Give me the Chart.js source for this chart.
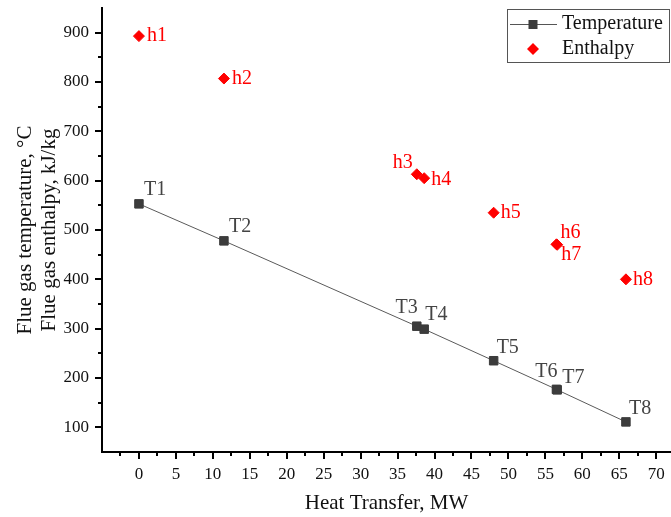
<!DOCTYPE html>
<html>
<head>
<meta charset="utf-8">
<script src="https://cdn.jsdelivr.net/npm/chart.js@4"></script>
<style>
  html, body { margin: 0; padding: 0; background: #fff; }
  #wrap { width: 671px; height: 517px; }
</style>
</head>
<body>
<div id="wrap"><canvas id="chart" width="671" height="517"></canvas></div>
<script>
// values
const heatTransfer = [0, 11.5, 37.6, 38.6, 48.0, 56.5, 56.6, 65.9];
const temperature = [553, 478, 305, 299, 235, 177, 176, 111];
const enthalpy = [893, 807, 613, 605, 535, 471, 470, 400];
const tempLabels = ["T1", "T2", "T3", "T4", "T5", "T6", "T7", "T8"];
const enthLabels = ["h1", "h2", "h3", "h4", "h5", "h6", "h7", "h8"];
const xTickValues = [0, 5, 10, 15, 20, 25, 30, 35, 40, 45, 50, 55, 60, 65, 70];
const yTickValues = [100, 200, 300, 400, 500, 600, 700, 800, 900];

const serif = "'Liberation Serif', 'Times New Roman', serif";
const grey = "#3c3c3c";
const red = "#ff0000";

// where each point label sits relative to its marker [dx, dy, align]
const tempLabelPlace = [
  [5, -14, "left"], [5, -14, "left"], [1, -18, "right"], [1, -14, "left"],
  [3, -13, "left"], [1, -18, "right"], [5, -12, "left"], [3, -13, "left"],
];
const enthLabelPlace = [
  [8, 0, "left"], [8, 0, "left"], [-4, -12, "right"], [7, 2, "left"],
  [7, 0, "left"], [4, -12, "left"], [4, 10, "left"], [7, 0, "left"],
];

const pointLabels = {
  id: "pointLabels",
  afterDatasetsDraw(chart) {
    const ctx = chart.ctx;
    const sets = [
      [0, tempLabels, tempLabelPlace, "#444"],
      [1, enthLabels, enthLabelPlace, red],
    ];
    ctx.save();
    ctx.font = "20px " + serif;
    ctx.textBaseline = "middle";
    sets.forEach(([i, names, place, color]) => {
      const meta = chart.getDatasetMeta(i);
      ctx.fillStyle = color;
      meta.data.forEach((pt, j) => {
        const [dx, dy, align] = place[j];
        ctx.textAlign = align;
        ctx.fillText(names[j], pt.x + dx, pt.y + dy);
      });
    });
    ctx.restore();
  },
};

// outward major and minor tick marks
const tickMarks = {
  id: "tickMarks",
  afterDraw(chart) {
    const ctx = chart.ctx;
    const xs = chart.scales.x;
    const ys = chart.scales.y;
    const area = chart.chartArea;
    ctx.save();
    ctx.strokeStyle = "#000";
    ctx.lineWidth = 2;
    ctx.beginPath();
    for (let v = -2.5; v <= xs.max; v += 2.5) {
      const px = Math.round(xs.getPixelForValue(v));
      const len = v % 5 === 0 ? 7 : 4;
      ctx.moveTo(px, area.bottom);
      ctx.lineTo(px, area.bottom + len);
    }
    for (let v = 100; v < ys.max; v += 50) {
      const py = Math.round(ys.getPixelForValue(v));
      const len = v % 100 === 0 ? 7 : 4;
      ctx.moveTo(area.left, py);
      ctx.lineTo(area.left - len, py);
    }
    ctx.stroke();
    ctx.restore();
  },
};

const boxLegend = {
  id: "boxLegend",
  afterDraw(chart) {
    const ctx = chart.ctx;
    const area = chart.chartArea;
    const w = 163, h = 54;
    const left = area.right - 1 - w;
    const top = area.top + 1;
    ctx.save();
    ctx.fillStyle = "#fff";
    ctx.fillRect(left, top, w, h);
    ctx.strokeStyle = "#555";
    ctx.lineWidth = 1;
    ctx.strokeRect(left + 0.5, top + 0.5, w - 1, h - 1);

    const cx = left + 26;
    const y1 = top + 15;
    const y2 = top + 40;
    ctx.strokeStyle = "#555";
    ctx.beginPath();
    ctx.moveTo(left + 3, y1 + 0.5);
    ctx.lineTo(left + 50, y1 + 0.5);
    ctx.stroke();
    ctx.fillStyle = grey;
    ctx.fillRect(cx - 4.5, y1 - 4, 9, 9);

    ctx.fillStyle = red;
    ctx.beginPath();
    ctx.moveTo(cx, y2 - 6);
    ctx.lineTo(cx + 6, y2);
    ctx.lineTo(cx, y2 + 6);
    ctx.lineTo(cx - 6, y2);
    ctx.closePath();
    ctx.fill();

    ctx.fillStyle = "#111";
    ctx.font = "20px " + serif;
    ctx.textAlign = "left";
    ctx.textBaseline = "middle";
    ctx.fillText("Temperature", left + 55, y1);
    ctx.fillText("Enthalpy", left + 55, y2);
    ctx.restore();
  },
};

function dropPadding(scale) {
  scale.paddingTop = 0;
  scale.paddingBottom = 0;
  scale.paddingLeft = 0;
  scale.paddingRight = 0;
}

new Chart(document.getElementById("chart"), {
  type: "scatter",
  data: {
    datasets: [
      {
        label: "Temperature",
        data: heatTransfer.map((x, i) => ({ x, y: temperature[i] })),
        showLine: true,
        borderColor: "#5a5a5a",
        borderWidth: 1,
        backgroundColor: grey,
        pointStyle: "rect",
        pointRadius: 6,
        pointBorderWidth: 1,
        pointBorderColor: grey,
        pointBackgroundColor: grey,
      },
      {
        label: "Enthalpy",
        data: heatTransfer.map((x, i) => ({ x, y: enthalpy[i] })),
        showLine: false,
        pointStyle: "rectRot",
        pointRadius: 5.5,
        pointBorderWidth: 1,
        pointBorderColor: red,
        pointBackgroundColor: red,
        backgroundColor: red,
      },
    ],
  },
  options: {
    responsive: false,
    animation: false,
    devicePixelRatio: 1,
    layout: { autoPadding: false, padding: { top: 8, right: 0, bottom: 0, left: 0 } },
    plugins: {
      legend: { display: false },
      tooltip: { enabled: false },
    },
    scales: {
      x: {
        type: "linear",
        min: -5,
        max: 72,
        afterBuildTicks: (scale) => {
          scale.ticks = xTickValues.map((value) => ({ value }));
        },
        afterFit: (scale) => {
          scale.height = 65;
          dropPadding(scale);
        },
        grid: { display: false, drawTicks: false },
        border: { display: true, color: "#000", width: 2 },
        ticks: {
          padding: 12,
          color: "#111",
          font: { family: serif, size: 17 },
          maxRotation: 0,
        },
        title: {
          display: true,
          text: "Heat Transfer, MW",
          color: "#111",
          font: { family: serif, size: 21, lineHeight: 1.2 },
          padding: { top: 0, bottom: 1 },
        },
      },
      y: {
        type: "linear",
        min: 50,
        max: 950,
        afterBuildTicks: (scale) => {
          scale.ticks = yTickValues.map((value) => ({ value }));
        },
        afterFit: (scale) => {
          scale.width = 102;
          dropPadding(scale);
        },
        grid: { display: false, drawTicks: false },
        border: { display: true, color: "#000", width: 2 },
        ticks: {
          padding: 13,
          color: "#111",
          font: { family: serif, size: 17 },
        },
        title: {
          display: true,
          text: ["Flue gas temperature, °C", "Flue gas enthalpy, kJ/kg"],
          color: "#111",
          font: { family: serif, size: 21, lineHeight: 1.15 },
          padding: { top: 13, bottom: 0 },
        },
      },
    },
  },
  plugins: [pointLabels, tickMarks, boxLegend],
});
</script>
</body>
</html>
